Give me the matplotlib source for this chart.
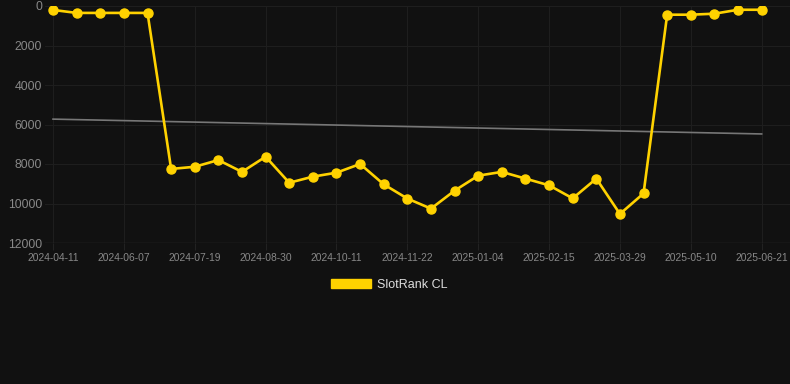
import numpy as np
import matplotlib
matplotlib.use('Agg')
import matplotlib.pyplot as plt
from matplotlib.patches import Patch

# weekly-ish snapshots, only every 3rd one is labelled on the axis
dates = ['2024-04-11', '2024-04-30', '2024-05-19', '2024-06-07', '2024-06-21',
         '2024-07-05', '2024-07-19', '2024-08-02', '2024-08-16', '2024-08-30',
         '2024-09-13', '2024-09-27', '2024-10-11', '2024-10-25', '2024-11-08',
         '2024-11-22', '2024-12-06', '2024-12-20', '2025-01-04', '2025-01-18',
         '2025-02-01', '2025-02-15', '2025-03-01', '2025-03-15', '2025-03-29',
         '2025-04-12', '2025-04-26', '2025-05-10', '2025-05-24', '2025-06-07',
         '2025-06-21']
rank = [200, 350, 350, 350, 350,
        8250, 8140, 7800, 8400, 7630,
        8950, 8640, 8440, 8000, 9030,
        9750, 10260, 9350, 8590, 8400,
        8740, 9080, 9740, 8740, 10530,
        9490, 440, 440, 390, 190,
        190]
yticks = [0, 2000, 4000, 6000, 8000, 10000, 12000]

bg = '#111111'
gold = '#FFD200'
plt.rcParams['font.family'] = ['Liberation Sans', 'DejaVu Sans']

fig = plt.figure(figsize=(7.9, 3.84), dpi=100, facecolor=bg)
ax = fig.add_axes([45 / 790, 1 - 243 / 384, 745 / 790, 237 / 384])
ax.set_facecolor(bg)

ax.plot(dates, rank, color=gold, linewidth=1.9, marker='o', markersize=6.5, zorder=3)

# linear trend
idx = np.arange(len(rank))
k, b = np.polyfit(idx, rank, 1)
ax.plot(dates, k * idx + b, color='#777777', linewidth=1.2, zorder=2)

ax.set_xlim(-0.34, 31.2)
ax.set_ylim(12000, 0)
ax.set_yticks(yticks)
ax.set_yticklabels([str(v) for v in yticks], fontsize=8.8, color='#888888')
ax.set_xticks(range(0, len(dates), 3))
ax.set_xticklabels(dates[::3], fontsize=7.4, color='#888888')
ax.tick_params(axis='y', length=0, pad=2)
ax.tick_params(axis='x', length=5, color='#222222', pad=2)
ax.grid(True, color='#1e1e1e', linewidth=0.8)
for s in ax.spines.values():
    s.set_visible(False)
ax.axhline(12000, color='#2c2c2c', linewidth=1)

fig.legend(handles=[Patch(facecolor=gold, edgecolor=gold, label='SlotRank CL')],
           loc='center', bbox_to_anchor=(0.493, 0.258), frameon=False,
           fontsize=9, handlelength=3.2, handleheight=0.8, handletextpad=0.5,
           labelcolor='#dddddd')

fig.savefig('out.png', dpi=100, facecolor=bg)
